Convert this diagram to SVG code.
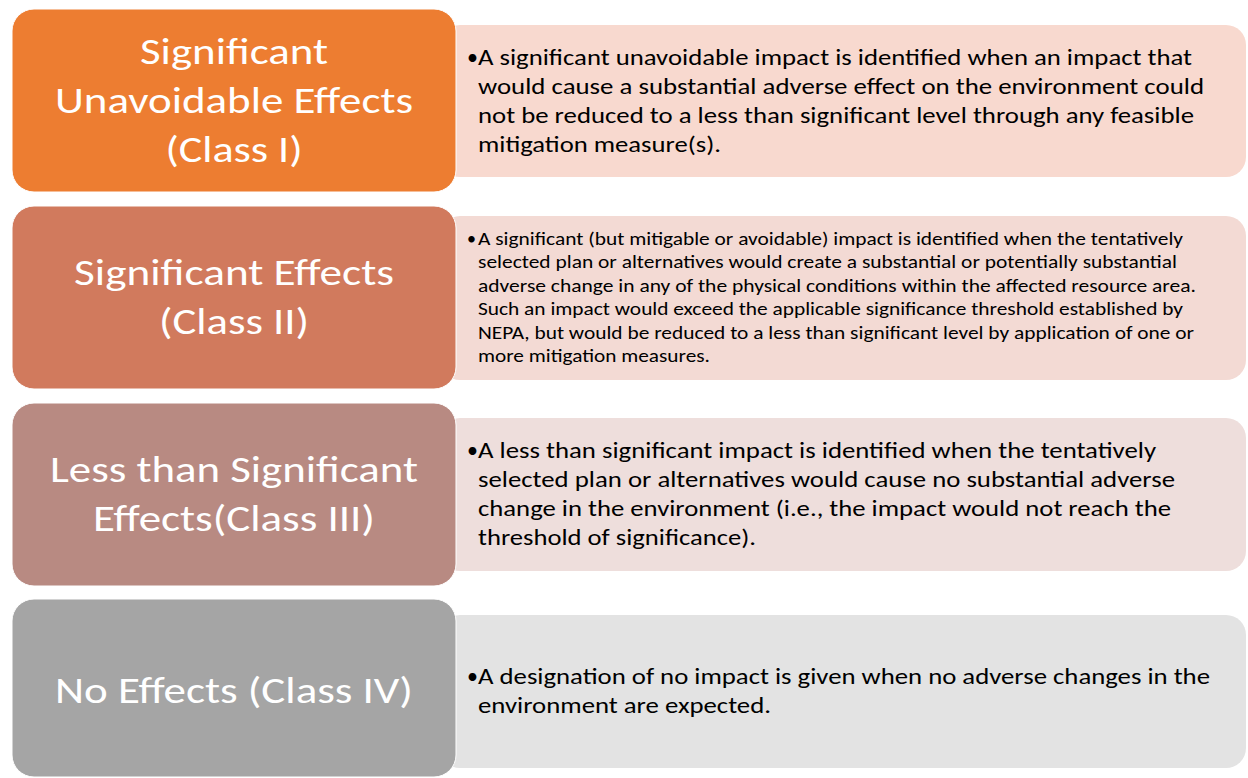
<svg xmlns="http://www.w3.org/2000/svg" width="1248" height="778" viewBox="0 0 1248 778">
<style>
.lbl{font-family:Carlito,Lato,"Liberation Sans",sans-serif;font-size:37px;fill:#ffffff;text-anchor:middle}
.desc{font-family:Carlito,Lato,"Liberation Sans",sans-serif;font-size:22px;fill:#000000}
.small{font-family:Carlito,Lato,"Liberation Sans",sans-serif;font-size:18px;fill:#000000}
.lb{stroke:#ffffff;stroke-width:1}
</style>
<rect width="1248" height="778" fill="#ffffff"/>
<g id="connectors"/>
<g id="desc1">
<rect x="440" y="25" width="806" height="152" rx="20" fill="#F8D9CF"/>
<text class="desc" x="467" y="65">•</text>
<text class="desc" x="478" y="65" textLength="714" lengthAdjust="spacingAndGlyphs">A significant unavoidable impact is identified when an impact that</text>
<text class="desc" x="478" y="94" textLength="726" lengthAdjust="spacingAndGlyphs">would cause a substantial adverse effect on the environment could</text>
<text class="desc" x="478" y="123" textLength="716" lengthAdjust="spacingAndGlyphs">not be reduced to a less than significant level through any feasible</text>
<text class="desc" x="478" y="152" textLength="243" lengthAdjust="spacingAndGlyphs">mitigation measure(s).</text>
</g>
<g id="desc2">
<rect x="440" y="216" width="806" height="164" rx="20" fill="#F3DAD4"/>
<text class="small" x="467" y="245">•</text>
<text class="small" x="478" y="245" textLength="705" lengthAdjust="spacingAndGlyphs">A significant (but mitigable or avoidable) impact is identified when the tentatively</text>
<text class="small" x="478" y="268" textLength="699" lengthAdjust="spacingAndGlyphs">selected plan or alternatives would create a substantial or potentially substantial</text>
<text class="small" x="478" y="292" textLength="718" lengthAdjust="spacingAndGlyphs">adverse change in any of the physical conditions within the affected resource area.</text>
<text class="small" x="478" y="315" textLength="705" lengthAdjust="spacingAndGlyphs">Such an impact would exceed the applicable significance threshold established by</text>
<text class="small" x="478" y="339" textLength="716" lengthAdjust="spacingAndGlyphs">NEPA, but would be reduced to a less than significant level by application of one or</text>
<text class="small" x="478" y="362" textLength="232" lengthAdjust="spacingAndGlyphs">more mitigation measures.</text>
</g>
<g id="desc3">
<rect x="440" y="418" width="806" height="153" rx="20" fill="#EEDEDC"/>
<text class="desc" x="467" y="458">•</text>
<text class="desc" x="478" y="458" textLength="678" lengthAdjust="spacingAndGlyphs">A less than significant impact is identified when the tentatively</text>
<text class="desc" x="478" y="487" textLength="697" lengthAdjust="spacingAndGlyphs">selected plan or alternatives would cause no substantial adverse</text>
<text class="desc" x="478" y="516" textLength="693" lengthAdjust="spacingAndGlyphs">change in the environment (i.e., the impact would not reach the</text>
<text class="desc" x="478" y="545" textLength="278" lengthAdjust="spacingAndGlyphs">threshold of significance).</text>
</g>
<g id="desc4">
<rect x="440" y="615" width="806" height="153" rx="20" fill="#E3E3E3"/>
<text class="desc" x="467" y="684">•</text>
<text class="desc" x="478" y="684" textLength="732" lengthAdjust="spacingAndGlyphs">A designation of no impact is given when no adverse changes in the</text>
<text class="desc" x="478" y="713" textLength="293" lengthAdjust="spacingAndGlyphs">environment are expected.</text>
</g>
<g id="class1">
<rect class="lb" x="12" y="9" width="444" height="183" rx="22" fill="#ED7D31"/>
<text class="lbl" x="234" y="64" textLength="188" lengthAdjust="spacingAndGlyphs">Significant</text>
<text class="lbl" x="234" y="113" textLength="358" lengthAdjust="spacingAndGlyphs">Unavoidable Effects</text>
<text class="lbl" x="234" y="162" textLength="137" lengthAdjust="spacingAndGlyphs">(Class I)</text>
</g>
<g id="class2">
<rect class="lb" x="12" y="206" width="444" height="183" rx="22" fill="#D17A5D"/>
<text class="lbl" x="234" y="285" textLength="320" lengthAdjust="spacingAndGlyphs">Significant Effects</text>
<text class="lbl" x="234" y="334" textLength="150" lengthAdjust="spacingAndGlyphs">(Class II)</text>
</g>
<g id="class3">
<rect class="lb" x="12" y="403" width="444" height="183" rx="22" fill="#B88A82"/>
<text class="lbl" x="234" y="482" textLength="368" lengthAdjust="spacingAndGlyphs">Less than Significant</text>
<text class="lbl" x="234" y="531" textLength="282" lengthAdjust="spacingAndGlyphs">Effects(Class III)</text>
</g>
<g id="class4">
<rect class="lb" x="12" y="599" width="444" height="178" rx="22" fill="#A5A5A5"/>
<text class="lbl" x="234" y="703" textLength="358" lengthAdjust="spacingAndGlyphs">No Effects (Class IV)</text>
</g>
</svg>
